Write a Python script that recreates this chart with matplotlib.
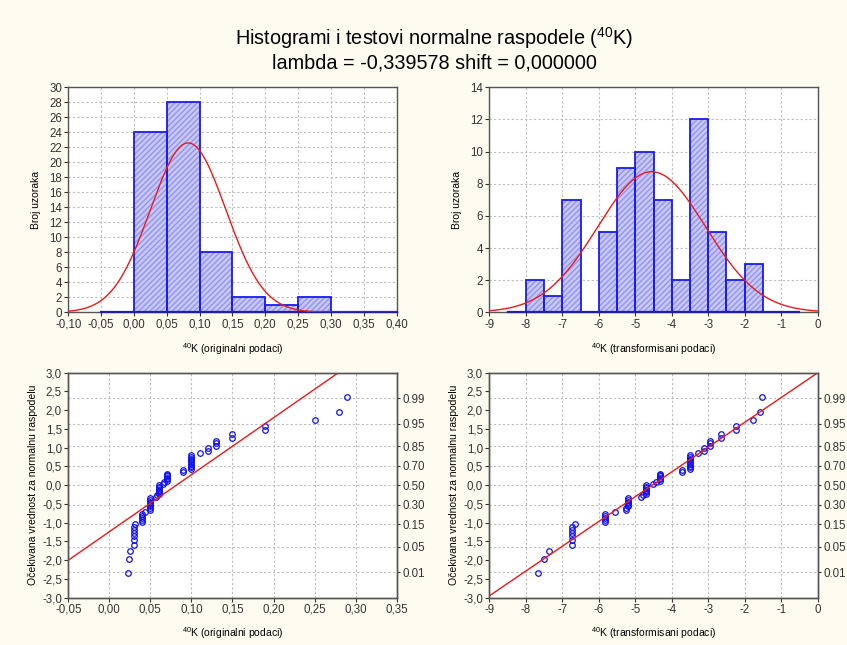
#!/usr/bin/env python3
"""
Histograms and normal probability plots for 40K, original vs Box-Cox transformed.
"""

import matplotlib
matplotlib.use("Agg")
import matplotlib.pyplot as plt
import numpy as np

plt.rcParams["font.family"] = ["Liberation Sans", "DejaVu Sans"]
plt.rcParams["mathtext.fontset"] = "custom"
plt.rcParams["mathtext.rm"] = "Liberation Sans"
plt.rcParams["mathtext.it"] = "Liberation Sans:italic"
plt.rcParams["axes.unicode_minus"] = False

# ---------------------------------------------------------------------------
# Data
# ---------------------------------------------------------------------------

# histogram of original data
orig_bin_left = [0.00, 0.05, 0.10, 0.15, 0.20, 0.25]
orig_counts = [24, 28, 8, 2, 1, 2]
orig_bin_width = 0.05
orig_fit_mean = 0.0825
orig_fit_sd = 0.0574

# histogram of transformed data
trans_bin_left = [-8.0, -7.5, -7.0, -6.5, -6.0, -5.5, -5.0, -4.5, -4.0, -3.5, -3.0, -2.5, -2.0]
trans_counts = [2, 1, 7, 0, 5, 9, 10, 7, 2, 12, 5, 2, 3]
trans_bin_width = 0.5
trans_fit_mean = -4.55
trans_fit_sd = 1.482

n_samples = 65

# sorted samples (original scale)
orig_values = [
    0.023, 0.024, 0.025,
    0.030, 0.030, 0.030, 0.030, 0.030, 0.030, 0.031,
    0.040, 0.040, 0.040, 0.040, 0.040,
    0.044,
    0.049, 0.049, 0.050, 0.050, 0.050, 0.050, 0.050, 0.050,
    0.057, 0.058,
    0.060, 0.060, 0.060, 0.060, 0.060, 0.060, 0.060,
    0.065, 0.067,
    0.070, 0.070, 0.070, 0.070, 0.070, 0.070,
    0.090, 0.090,
    0.100, 0.100, 0.100, 0.100, 0.100, 0.100, 0.100, 0.100, 0.100,
    0.110, 0.120, 0.120,
    0.130, 0.130, 0.130,
    0.150, 0.150,
    0.190, 0.190,
    0.250, 0.280, 0.290,
]

# same samples after the Box-Cox transform
trans_values = [
    -7.66, -7.51, -7.36,
    -6.74, -6.74, -6.74, -6.74, -6.74, -6.74, -6.64,
    -5.84, -5.84, -5.84, -5.84, -5.84,
    -5.56,
    -5.25, -5.25, -5.20, -5.20, -5.20, -5.20, -5.20, -5.20,
    -4.85, -4.80,
    -4.71, -4.71, -4.71, -4.71, -4.71, -4.71, -4.71,
    -4.51, -4.43,
    -4.32, -4.32, -4.32, -4.32, -4.32, -4.32,
    -3.73, -3.73,
    -3.49, -3.49, -3.49, -3.49, -3.49, -3.49, -3.49, -3.49, -3.49,
    -3.29, -3.11, -3.11,
    -2.94, -2.94, -2.94,
    -2.66, -2.66,
    -2.23, -2.23,
    -1.77, -1.59, -1.54,
]

# expected normal values by rank
expected_z = [
    -2.342, -1.962, -1.748, -1.593, -1.469, -1.365, -1.273, -1.191, -1.116, -1.047,
    -0.983, -0.922, -0.865, -0.810, -0.758, -0.708, -0.660, -0.612, -0.567, -0.522,
    -0.479, -0.436, -0.394, -0.353, -0.312, -0.272, -0.233, -0.193, -0.154, -0.115,
    -0.077, -0.038, 0.000, 0.038, 0.077, 0.115, 0.154, 0.193, 0.233, 0.272,
    0.312, 0.353, 0.394, 0.436, 0.479, 0.522, 0.567, 0.612, 0.660, 0.708,
    0.758, 0.810, 0.865, 0.922, 0.983, 1.047, 1.116, 1.191, 1.273, 1.365,
    1.469, 1.593, 1.748, 1.962, 2.342,
]

# fitted reference lines in the probability plots (points on the line)
orig_line_x = [-0.05, 0.279]
orig_line_z = [-2.0, 3.0]
trans_line_x = [-9.0, 0.0]
trans_line_z = [-2.95, 3.0]

# right-hand probability axis
prob_labels = ["0.01", "0.05", "0.15", "0.30", "0.50", "0.70", "0.85", "0.95", "0.99"]
prob_z = [-2.326, -1.645, -1.036, -0.524, 0.0, 0.524, 1.036, 1.645, 2.326]

title_lines = [
    r"Histogrami i testovi normalne raspodele ($^{\mathregular{40}}$K)",
    "lambda = -0,339578 shift = 0,000000",
]
xlabel_orig = r"$^{\mathregular{40}}$K (originalni podaci)"
xlabel_trans = r"$^{\mathregular{40}}$K (transformisani podaci)"
ylabel_hist = "Broj uzoraka"
ylabel_qq = "Očekivana vrednost za normalnu raspodelu"

# ---------------------------------------------------------------------------
# Styling
# ---------------------------------------------------------------------------

BG = "#FEFCF0"
BAR_FACE = "#C8C8F6"
BAR_EDGE = "#1A1AF5"
CURVE = "#F01818"
GRID = "#BDBDBD"
SPINE = "#555555"
TICK_FS = 8.3
LABEL_FS = 7.5


def comma(v, digits):
    s = f"{v:.{digits}f}".replace(".", ",")
    if s.startswith("-") and float(v) == 0:
        s = s[1:]
    return s


def style_axes(ax):
    for sp in ax.spines.values():
        sp.set_color(SPINE)
        sp.set_linewidth(1.0)
    ax.tick_params(direction="out", length=3, width=0.8, colors="#333333",
                   labelsize=TICK_FS, pad=1.5)
    ax.set_axisbelow(True)


def draw_hist(ax, left, counts, width, mean, sd, xlim, base_ext):
    ax.bar(left, counts, width=width, align="edge", color=BAR_FACE,
           edgecolor="#9494EE", hatch="//////", linewidth=0, zorder=2)
    ax.bar(left, counts, width=width, align="edge", fill=False,
           edgecolor=BAR_EDGE, linewidth=1.3, zorder=3)
    ax.plot(base_ext, [0, 0], color="#2020A0", lw=1.6, zorder=3, clip_on=False)
    xs = np.linspace(xlim[0], xlim[1], 400)
    ys = n_samples * width / (sd * np.sqrt(2 * np.pi)) * np.exp(-0.5 * ((xs - mean) / sd) ** 2)
    ax.plot(xs, ys, color=CURVE, lw=1.0, zorder=4)


def draw_qq(ax, xv, line_x, line_z, xlim):
    ax.plot(xv, expected_z, linestyle="none", marker="o", markersize=4.0,
            markerfacecolor="none", markeredgecolor="#1010F0",
            markeredgewidth=0.9, zorder=3)
    ax.plot(line_x, line_z, color=CURVE, lw=1.0, zorder=4)
    ax.set_ylim(-3, 3)
    ax.set_xlim(*xlim)
    yt = np.arange(-3.0, 3.01, 0.5)
    ax.set_yticks(yt)
    ax.set_yticklabels([comma(v, 1) for v in yt])
    ax.grid(False, axis="y")
    for z in prob_z:
        ax.axhline(z, color=GRID, lw=0.8, ls=(0, (2, 2)), zorder=1)
    ax.grid(True, axis="x", color=GRID, lw=0.8, ls=(0, (2, 2)))
    rax = ax.twinx()
    rax.set_ylim(-3, 3)
    rax.set_yticks(prob_z)
    rax.set_yticklabels(prob_labels)
    style_axes(rax)
    rax.tick_params(axis="y", length=2, pad=2)


def main():
    fig = plt.figure(figsize=(8.47, 6.45), dpi=100, facecolor=BG)

    fig.text(0.513, 0.941, title_lines[0], ha="center", va="center", fontsize=14.3)
    fig.text(0.513, 0.902, title_lines[1], ha="center", va="center", fontsize=14.3)

    w, h = 0.3877, 0.3488
    ax1 = fig.add_axes([0.0806, 0.5158, w, h])
    ax2 = fig.add_axes([0.5777, 0.5158, w, h])
    ax3 = fig.add_axes([0.0806, 0.0733, w, h])
    ax4 = fig.add_axes([0.5777, 0.0733, w, h])

    # top-left histogram
    style_axes(ax1)
    draw_hist(ax1, orig_bin_left, orig_counts, orig_bin_width,
              orig_fit_mean, orig_fit_sd, (-0.10, 0.40), [-0.05, 0.40])
    ax1.set_xlim(-0.10, 0.40)
    ax1.set_ylim(0, 30)
    xt = np.arange(-0.10, 0.401, 0.05)
    ax1.set_xticks(xt)
    ax1.set_xticklabels([comma(round(v, 2), 2) for v in xt])
    ax1.set_yticks(np.arange(0, 31, 2))
    ax1.grid(True, color=GRID, lw=0.8, ls=(0, (2, 2)))
    ax1.set_xlabel(xlabel_orig, fontsize=LABEL_FS, labelpad=8)
    ax1.set_ylabel(ylabel_hist, fontsize=LABEL_FS, labelpad=6)

    # top-right histogram
    style_axes(ax2)
    draw_hist(ax2, trans_bin_left, trans_counts, trans_bin_width,
              trans_fit_mean, trans_fit_sd, (-9, 0), [-8.5, -0.5])
    ax2.set_xlim(-9, 0)
    ax2.set_ylim(0, 14)
    ax2.set_xticks(np.arange(-9, 1, 1))
    ax2.set_yticks(np.arange(0, 15, 2))
    ax2.grid(True, color=GRID, lw=0.8, ls=(0, (2, 2)))
    ax2.set_xlabel(xlabel_trans, fontsize=LABEL_FS, labelpad=8)
    ax2.set_ylabel(ylabel_hist, fontsize=LABEL_FS, labelpad=6)

    # bottom-left probability plot
    style_axes(ax3)
    draw_qq(ax3, orig_values, orig_line_x, orig_line_z, (-0.05, 0.35))
    xt = np.arange(-0.05, 0.351, 0.05)
    ax3.set_xticks(xt)
    ax3.set_xticklabels([comma(round(v, 2), 2) for v in xt])
    ax3.set_xlabel(xlabel_orig, fontsize=LABEL_FS, labelpad=7)
    ax3.set_ylabel(ylabel_qq, fontsize=LABEL_FS, labelpad=3)

    # bottom-right probability plot
    style_axes(ax4)
    draw_qq(ax4, trans_values, trans_line_x, trans_line_z, (-9, 0))
    ax4.set_xticks(np.arange(-9, 1, 1))
    ax4.set_xlabel(xlabel_trans, fontsize=LABEL_FS, labelpad=7)
    ax4.set_ylabel(ylabel_qq, fontsize=LABEL_FS, labelpad=3)

    fig.savefig("out.png", dpi=100, facecolor=BG)


if __name__ == "__main__":
    main()
